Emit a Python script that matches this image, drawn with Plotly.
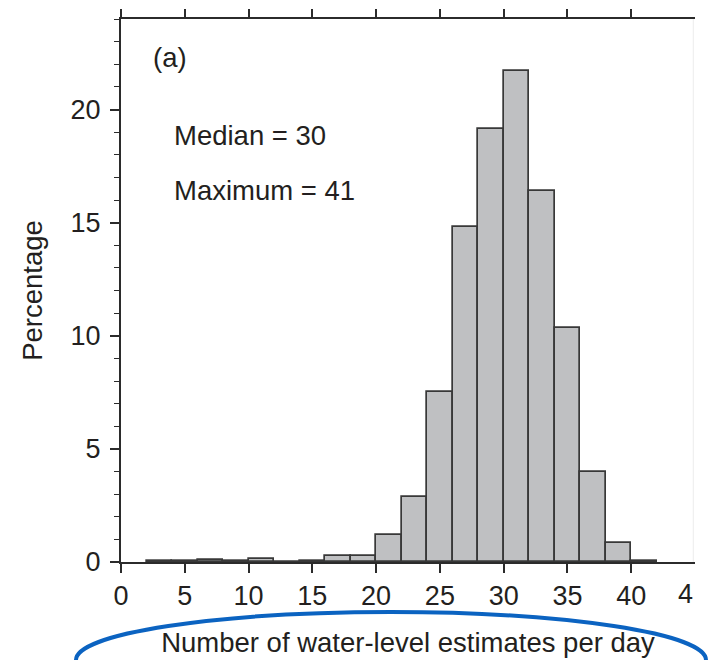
import plotly.graph_objects as go

# Histogram of daily water-level estimate counts (2-wide bins)
bin_left = [2, 4, 6, 8, 10, 12, 14, 16, 18, 20, 22, 24, 26, 28, 30, 32, 34, 36, 38, 40]
percentage = [0.04, 0.06, 0.10, 0.05, 0.14, 0.02, 0.06, 0.26, 0.27, 1.20,
              2.87, 7.52, 14.82, 19.13, 21.70, 16.41, 10.36, 3.96, 0.84, 0.05]
bin_width = 2

x_tick_vals = [0, 5, 10, 15, 20, 25, 30, 35, 40]
x_tick_text = ["0", "5", "10", "15", "20", "25", "30", "35", "40"]
y_tick_vals = [0, 5, 10, 15, 20]
y_tick_text = ["0", "5", "10", "15", "20"]

panel_label = "(a)"
stats_lines = ["Median = 30", "Maximum = 41"]
x_title = "Number of water-level estimates per day"
y_title = "Percentage"

FONT = "Liberation Sans, Arial, Helvetica, sans-serif"
INK = "#231f20"
AXIS = "#2b2b2b"
FS = 27
FS_TXT = 27.5

centers = [b + bin_width / 2 for b in bin_left]

fig = go.Figure()
fig.add_trace(go.Bar(
    x=centers, y=percentage, width=bin_width,
    marker=dict(color="#bfc0c2", line=dict(color="#383838", width=1.7)),
    showlegend=False, hoverinfo="x+y",
))
# invisible trace that carries the top axis
fig.add_trace(go.Scatter(x=[0, 45], y=[0, 0], xaxis="x2", mode="markers",
                         marker=dict(opacity=0), showlegend=False, hoverinfo="skip"))

fig.update_layout(
    width=708, height=660,
    margin=dict(l=121, r=13, t=19, b=98),
    paper_bgcolor="white", plot_bgcolor="white",
    font=dict(family=FONT, size=FS, color=INK),
    bargap=0,
    xaxis=dict(
        range=[0, 45], showgrid=False, zeroline=False, automargin=False,
        showline=True, linecolor=AXIS, linewidth=2,
        ticks="outside", ticklen=9, tickwidth=1.5, tickcolor=AXIS,
        tickvals=x_tick_vals, ticktext=x_tick_text,
        tickfont=dict(family=FONT, size=FS, color=INK),
        title=dict(text=x_title, font=dict(family=FONT, size=FS_TXT, color=INK), standoff=22),
    ),
    xaxis2=dict(
        range=[0, 45], overlaying="x", side="top", showgrid=False, zeroline=False,
        automargin=False,
        showline=True, linecolor=AXIS, linewidth=2,
        ticks="outside", ticklen=8, tickwidth=1.5, tickcolor=AXIS,
        tickvals=x_tick_vals, showticklabels=False,
    ),
    yaxis=dict(
        range=[0, 24], showgrid=False, zeroline=False, automargin=False,
        showline=True, linecolor=AXIS, linewidth=2,
        ticks="outside", ticklen=9, tickwidth=1.5, tickcolor=AXIS,
        tickvals=y_tick_vals, ticktext=y_tick_text,
        tickfont=dict(family=FONT, size=FS, color=INK),
        ticklabelstandoff=4,
        minor=dict(dtick=1, tick0=0, ticks="outside", ticklen=5, tickwidth=1.2, tickcolor=AXIS),
        title=dict(text=y_title, font=dict(family=FONT, size=FS_TXT, color=INK), standoff=20),
    ),
)

# panel label and summary statistics
fig.add_annotation(x=0.052, y=0.929, xref="paper", yref="paper", text=panel_label,
                   showarrow=False, xanchor="left", yanchor="middle",
                   font=dict(family=FONT, size=FS_TXT, color=INK))
for txt, yy in zip(stats_lines, [0.786, 0.685]):
    fig.add_annotation(x=0.088, y=yy, xref="paper", yref="paper", text=txt,
                       showarrow=False, xanchor="left", yanchor="middle",
                       font=dict(family=FONT, size=FS_TXT, color=INK))

# truncated last tick label at the right edge
fig.add_annotation(x=45, y=0, xref="x", yref="y", text="4", showarrow=False,
                   xanchor="right", yanchor="top", yshift=-15,
                   font=dict(family=FONT, size=FS, color=INK))

# faint right border
fig.add_shape(type="line", xref="paper", yref="paper", x0=0.997, x1=0.997, y0=0, y1=1,
              line=dict(color="#ececec", width=1))

# blue highlight ellipse around the x-axis title (pixel-based on the page)
W, H = 708, 660
cx, cy, a, b = 391, 660, 315, 48
fig.add_shape(type="circle", xref="paper", yref="paper",
              x0=(cx - a - 121) / (W - 121 - 13), x1=(cx + a - 121) / (W - 121 - 13),
              y0=(H - 98 - (cy + b)) / (H - 19 - 98), y1=(H - 98 - (cy - b)) / (H - 19 - 98),
              line=dict(color="#0b63c1", width=4))

fig.write_html("out.html")
